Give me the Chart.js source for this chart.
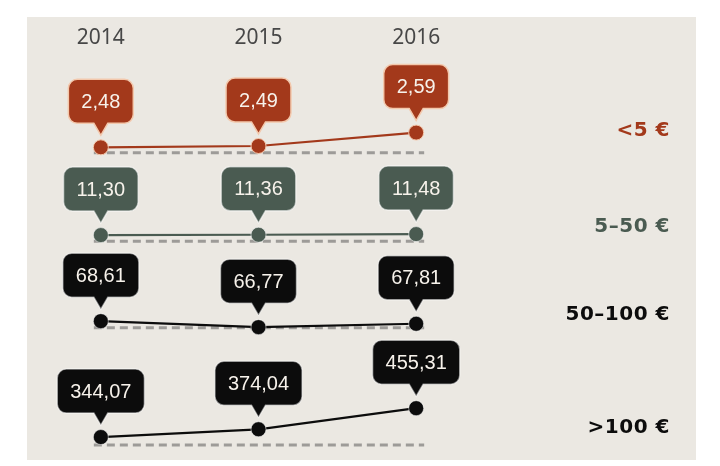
<!DOCTYPE html>
<html>
<head>
<meta charset="utf-8">
<script src="https://cdn.jsdelivr.net/npm/chart.js@4.4.1/dist/chart.umd.min.js"></script>
<style>
  html, body { margin: 0; padding: 0; background: #fff; }
  #wrap { position: relative; width: 720px; height: 466px; }
  #panel { position: absolute; left: 27px; top: 17px; width: 669px; height: 443px; background: #ebe8e2; }
  canvas { position: absolute; left: 0; top: 0; }
</style>
</head>
<body>
<div id="wrap"><div id="panel"></div><canvas id="chart" width="720" height="466"></canvas></div>
<script>
// price bands per year
const years = ['2014', '2015', '2016'];
const rowLabels = ['<5 €', '5–50 €', '50–100 €', '>100 €'];
const under5 = [2.48, 2.49, 2.59];
const from5to50 = [11.30, 11.36, 11.48];
const from50to100 = [68.61, 66.77, 67.81];
const over100 = [344.07, 374.04, 455.31];

// each row gets its own y scale, stacked on top of each other
const rows = [
    { data: under5,      color: '#a3391b', halo: '#f3c8ac', min: 2.44,  max: 3.10, weight: 89,  labelDy: 22 },
    { data: from5to50,   color: '#4a5b51', halo: 'rgba(255,255,255,0.55)', min: 10.2,  max: 26.2, weight: 89,  labelDy: 14 },
    { data: from50to100, color: '#0c0c0c', halo: 'rgba(255,255,255,0.5)', min: 66.6,  max: 93.3, weight: 87,  labelDy: 13 },
    { data: over100,     color: '#0c0c0c', halo: 'rgba(255,255,255,0.5)', min: 313.4, max: 766,  weight: 118, labelDy: 17 }
];

function fmt(v) {
    return v.toFixed(2).replace('.', ',');
}

function drawBubble(ctx, px, py, text, row) {
    ctx.save();
    ctx.font = '20px "Liberation Sans", Arial, sans-serif';
    const w = ctx.measureText(text).width + 26;
    const h = 44, r = 9, tw = 7;
    const bottom = py - 24, top = bottom - h, left = px - w / 2, right = px + w / 2;
    ctx.beginPath();
    ctx.moveTo(left + r, top);
    ctx.lineTo(right - r, top);
    ctx.arcTo(right, top, right, top + r, r);
    ctx.lineTo(right, bottom - r);
    ctx.arcTo(right, bottom, right - r, bottom, r);
    ctx.lineTo(px + tw, bottom);
    ctx.lineTo(px, py - 12);
    ctx.lineTo(px - tw, bottom);
    ctx.lineTo(left + r, bottom);
    ctx.arcTo(left, bottom, left, bottom - r, r);
    ctx.lineTo(left, top + r);
    ctx.arcTo(left, top, left + r, top, r);
    ctx.closePath();
    ctx.fillStyle = row.color;
    ctx.fill();
    ctx.strokeStyle = row.halo;
    ctx.lineWidth = 1.5;
    ctx.stroke();
    ctx.fillStyle = '#f7f2eb';
    ctx.textAlign = 'center';
    ctx.textBaseline = 'middle';
    ctx.fillText(text, px, top + h / 2 + 1);
    ctx.restore();
}

const bubblePlugin = {
    id: 'bubbles',
    beforeDatasetsDraw(chart) {
        const ctx = chart.ctx;
        const x = chart.scales.x;
        rows.forEach(function(row, i) {
            const y = chart.scales['y' + i].bottom;
            ctx.save();
            ctx.strokeStyle = '#9d9b98';
            ctx.lineWidth = 3;
            ctx.setLineDash([8, 5]);
            ctx.beginPath();
            ctx.moveTo(x.getPixelForValue(0) - 7, y);
            ctx.lineTo(x.getPixelForValue(years.length - 1) + 8, y);
            ctx.stroke();
            ctx.restore();
        });
    },
    afterDatasetsDraw(chart) {
        const ctx = chart.ctx;
        rows.forEach(function(row, i) {
            chart.getDatasetMeta(i).data.forEach(function(pt, j) {
                drawBubble(ctx, pt.x, pt.y, fmt(row.data[j]), row);
            });
            const y = chart.scales['y' + i].bottom - row.labelDy;
            ctx.save();
            ctx.font = 'bold 20px "DejaVu Sans", sans-serif';
            ctx.letterSpacing = '0.5px';
            ctx.fillStyle = row.color;
            ctx.textAlign = 'right';
            ctx.textBaseline = 'middle';
            ctx.fillText(rowLabels[i], 670, y);
            ctx.restore();
        });
    }
};

const scales = {
    x: {
        type: 'category',
        labels: years,
        position: 'top',
        offset: true,
        grid: { display: false, drawTicks: false },
        border: { display: false },
        ticks: {
            color: '#474747',
            padding: 14,
            font: { family: 'Noto Sans', size: 21 }
        }
    }
};
rows.forEach(function(row, i) {
    scales['y' + i] = {
        type: 'linear',
        position: 'right',
        stack: 'rows',
        stackWeight: row.weight,
        min: row.min,
        max: row.max,
        grid: { display: false, drawTicks: false },
        border: { display: false },
        ticks: { display: false }
    };
});

new Chart(document.getElementById('chart'), {
    type: 'line',
    data: {
        labels: years,
        datasets: rows.map(function(row, i) {
            return {
                label: rowLabels[i],
                data: row.data,
                yAxisID: 'y' + i,
                borderColor: row.color,
                borderWidth: 2.2,
                pointRadius: 7.5,
                pointBackgroundColor: row.color,
                pointBorderColor: row.halo,
                pointBorderWidth: 1,
                tension: 0,
                clip: false
            };
        })
    },
    options: {
        responsive: false,
        animation: false,
        events: [],
        layout: { padding: { top: 11, left: 22, right: 225, bottom: 21 } },
        scales: scales,
        plugins: {
            legend: { display: false },
            tooltip: { enabled: false }
        }
    },
    plugins: [bubblePlugin]
});
</script>
</body>
</html>
